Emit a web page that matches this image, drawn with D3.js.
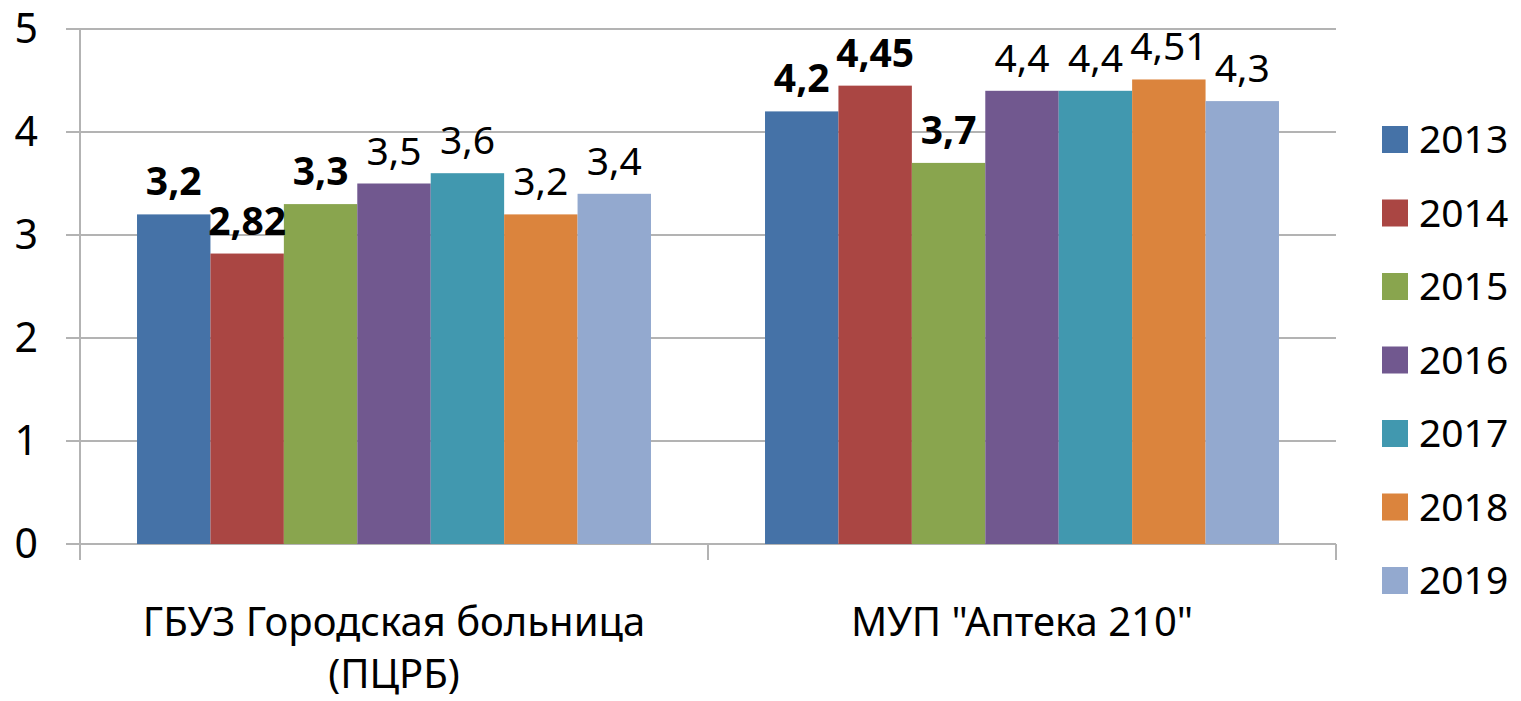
<!DOCTYPE html>
<html>
<head>
<meta charset="utf-8">
<script src="https://cdn.jsdelivr.net/npm/d3@7"></script>
<style>
  html, body { margin: 0; padding: 0; background: #fff; }
  svg { display: block; }
  text { font-family: "Noto Sans", "DejaVu Sans", sans-serif; fill: #000; }
</style>
</head>
<body>
<svg id="chart" width="1521" height="701"></svg>
<script>
const categories = ["ГБУЗ Городская больница (ПЦРБ)", "МУП \"Аптека 210\""];
const categoryLines = [["ГБУЗ Городская больница", "(ПЦРБ)"], ["МУП \"Аптека 210\""]];
const years = ["2013", "2014", "2015", "2016", "2017", "2018", "2019"];
const values2013 = [3.2, 4.2];
const values2014 = [2.82, 4.45];
const values2015 = [3.3, 3.7];
const values2016 = [3.5, 4.4];
const values2017 = [3.6, 4.4];
const values2018 = [3.2, 4.51];
const values2019 = [3.4, 4.3];
const yTicks = [0, 1, 2, 3, 4, 5];
const colors = ["#4572A7", "#AA4643", "#89A54E", "#71588F", "#4198AF", "#DB843D", "#93A9CF"];
const boldYears = ["2013", "2014", "2015"];

const seriesValues = [values2013, values2014, values2015, values2016, values2017, values2018, values2019];
const fmt = v => String(v).replace(".", ",");

const svg = d3.select("#chart");
const plot = { left: 80, right: 1336, top: 29, bottom: 544 };

const x0 = d3.scaleBand().domain(categories).range([plot.left, plot.right]).paddingInner(0).paddingOuter(0);
const x1 = d3.scaleBand().domain(years).range([0, x0.bandwidth()]).paddingOuter(57 / 73.4).paddingInner(0);
const y = d3.scaleLinear().domain([0, 5]).range([plot.bottom, plot.top]);

const gridColor = "#b3b3b3";

// gridlines
svg.append("g").selectAll("line").data(yTicks).join("line")
  .attr("x1", plot.left - 14).attr("x2", plot.right)
  .attr("y1", d => y(d)).attr("y2", d => y(d))
  .attr("stroke", gridColor).attr("stroke-width", 2);

// y axis line
svg.append("line").attr("x1", plot.left).attr("x2", plot.left)
  .attr("y1", plot.top).attr("y2", plot.bottom + 16)
  .attr("stroke", gridColor).attr("stroke-width", 2);

// category tick marks
const catEdges = categories.map(c => x0(c)).concat([x0(categories[categories.length - 1]) + x0.bandwidth()]);
svg.append("g").selectAll("line").data(catEdges.slice(1)).join("line")
  .attr("x1", d => d).attr("x2", d => d)
  .attr("y1", plot.bottom).attr("y2", plot.bottom + 16)
  .attr("stroke", gridColor).attr("stroke-width", 2);

// y tick labels
svg.append("g").selectAll("text").data(yTicks).join("text")
  .attr("x", 38).attr("y", d => y(d) - 1)
  .attr("dy", "0.36em")
  .attr("text-anchor", "end")
  .style("font-size", "41px")
  .text(d => d);

// bars
const groups = svg.append("g").selectAll("g").data(categories).join("g")
  .attr("transform", c => `translate(${x0(c)},0)`);

groups.each(function(c, ci) {
  const g = d3.select(this);
  const data = years.map((yr, si) => ({ yr, si, v: seriesValues[si][ci] }));
  g.selectAll("rect").data(data).join("rect")
    .attr("x", d => x1(d.yr))
    .attr("width", x1.bandwidth())
    .attr("y", d => y(d.v))
    .attr("height", d => y(0) - y(d.v))
    .attr("fill", d => colors[d.si]);
  g.selectAll("text").data(data).join("text")
    .attr("x", d => x1(d.yr) + x1.bandwidth() / 2)
    .attr("y", d => y(d.v) - 19)
    .attr("text-anchor", "middle")
    .style("font-size", "39px")
    .style("font-weight", d => boldYears.includes(d.yr) ? "bold" : "normal")
    .text(d => fmt(d.v));
});

// category labels
categories.forEach((c, ci) => {
  const cx = x0(c) + x0.bandwidth() / 2;
  const t = svg.append("text").attr("text-anchor", "middle").style("font-size", "40px");
  categoryLines[ci].forEach((line, li) => {
    t.append("tspan").attr("x", cx).attr("y", 636 + li * 52).text(line);
  });
});

// legend
const legend = svg.append("g").selectAll("g").data(years).join("g")
  .attr("transform", (d, i) => `translate(1382, ${139 + i * 73.5})`);
legend.append("rect").attr("x", 0).attr("y", -13).attr("width", 26).attr("height", 27)
  .attr("fill", (d, i) => colors[i]);
legend.append("text").attr("x", 37).attr("y", 0).attr("dy", "0.36em")
  .style("font-size", "39px").text(d => d);
</script>
</body>
</html>
